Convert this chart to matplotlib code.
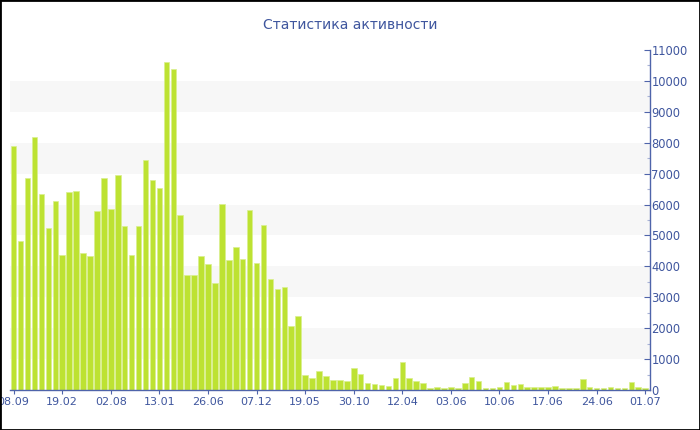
import matplotlib
matplotlib.use("Agg")
import matplotlib.pyplot as plt
from matplotlib.patches import Rectangle
from matplotlib.ticker import MultipleLocator

title = "Статистика активности"
values = [
    7900, 4820, 6850, 8190, 6330, 5250, 6130, 4360, 6410, 6450,
    4440, 4340, 5780, 6850, 5860, 6960, 5290, 4370, 5300, 7440,
    6800, 6550, 10600, 10390, 5670, 3730, 3730, 4330, 4080, 3460,
    6020, 4190, 4630, 4240, 5810, 4110, 5330, 3590, 3270, 3330,
    2080, 2410, 485, 377, 615, 440, 334, 334, 290, 700,
    515, 235, 190, 160, 145, 400, 890, 400, 280, 237,
    60, 95, 60, 95, 60, 222, 405, 290, 60, 60,
    95, 250, 150, 192, 95, 95, 95, 95, 120, 60,
    60, 60, 345, 95, 60, 60, 95, 60, 60, 260,
    95, 62,
]
tick_labels = ["08.09", "19.02", "02.08", "13.01", "26.06", "07.12", "19.05",
               "30.10", "12.04", "03.06", "10.06", "17.06", "24.06", "01.07"]
tick_step = 7

BLUE = "#3f569e"
AXIS = "#4f64aa"
BAR = "#bde232"

fig = plt.figure(figsize=(7, 4.3), dpi=100)
ax = fig.add_axes([10/700, 40/430, 640/700, 340/430])

for lo in range(1000, 11000, 2000):
    ax.axhspan(lo, lo + 1000, color="#f7f7f7", zorder=0, lw=0)

x = list(range(len(values)))
ax.bar(x, values, width=0.8, color=BAR, edgecolor="#d9ef8f", linewidth=0.5, zorder=2)

ax.set_xlim(-0.53, 91.69)
ax.set_ylim(0, 11000)

ax.set_xticks(x[::tick_step])
ax.set_xticklabels(tick_labels)

ax.yaxis.tick_right()
ax.yaxis.set_major_locator(MultipleLocator(1000))
ax.yaxis.set_minor_locator(MultipleLocator(500))
ax.tick_params(axis="y", which="major", direction="in", length=4, width=0.8,
               color=AXIS, labelcolor=BLUE, labelsize=8.3, pad=1)
ax.tick_params(axis="y", which="minor", direction="in", length=2.5, width=0.8, color="#aab4d6")
ax.tick_params(axis="x", which="major", direction="out", length=3, width=0.8,
               color=AXIS, labelcolor=BLUE, labelsize=8, pad=2)

for s in ["left", "top"]:
    ax.spines[s].set_visible(False)
for s in ["bottom", "right"]:
    ax.spines[s].set_color(AXIS)
    ax.spines[s].set_linewidth(1.0)
ax.set_facecolor("white")

fig.text(0.5, 1 - 25/430, title, ha="center", va="center", fontsize=10, color=BLUE)

fig.add_artist(Rectangle((0, 0), 1, 1, transform=fig.transFigure, fill=False,
                         lw=2, ec="black", zorder=10))

fig.savefig("out.png", dpi=100)
